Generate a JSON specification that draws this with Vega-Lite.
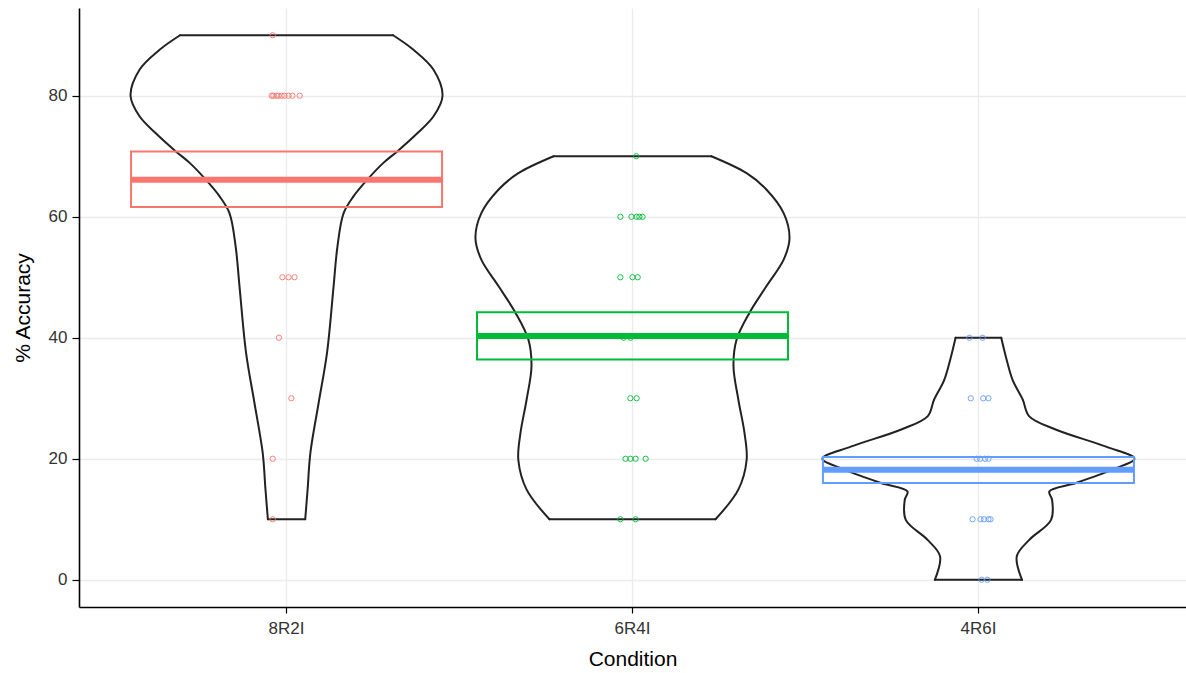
{
  "$schema": "https://vega.github.io/schema/vega-lite/v6.json",
  "width": 1107,
  "height": 599,
  "autosize": {"type": "none"},
  "padding": {"left": 79, "top": 8, "right": 0, "bottom": 66},
  "background": "white",
  "config": {
    "view": {"stroke": null},
    "font": "Liberation Sans",
    "axis": {
      "domainColor": "#000000",
      "domainWidth": 1.6,
      "tickColor": "#000000",
      "tickWidth": 1.2,
      "tickSize": 6,
      "labelColor": "#333333",
      "labelFontSize": 17,
      "titleColor": "#000000",
      "titleFontSize": 21,
      "titleFontWeight": "normal",
      "gridColor": "#EBEBEB",
      "gridWidth": 1.3
    }
  },
  "datasets": {
    "violin": [
      {"cond": "8R2I", "part": "B", "acc": 10, "w": -0.054},
      {"cond": "8R2I", "part": "B", "acc": 10, "w": 0.054},
      {"cond": "8R2I", "part": "T", "acc": 90, "w": -0.308},
      {"cond": "8R2I", "part": "T", "acc": 90, "w": 0.308},
      {"cond": "8R2I", "part": "L", "acc": 10, "w": -0.054},
      {"cond": "8R2I", "part": "L", "acc": 15, "w": -0.061},
      {"cond": "8R2I", "part": "L", "acc": 21, "w": -0.069},
      {"cond": "8R2I", "part": "L", "acc": 29.3, "w": -0.093},
      {"cond": "8R2I", "part": "L", "acc": 37.5, "w": -0.117},
      {"cond": "8R2I", "part": "L", "acc": 48.5, "w": -0.136},
      {"cond": "8R2I", "part": "L", "acc": 55, "w": -0.147},
      {"cond": "8R2I", "part": "L", "acc": 60.6, "w": -0.165},
      {"cond": "8R2I", "part": "L", "acc": 63.4, "w": -0.194},
      {"cond": "8R2I", "part": "L", "acc": 66.1, "w": -0.233},
      {"cond": "8R2I", "part": "L", "acc": 68.9, "w": -0.28},
      {"cond": "8R2I", "part": "L", "acc": 70.8, "w": -0.32},
      {"cond": "8R2I", "part": "L", "acc": 73.8, "w": -0.378},
      {"cond": "8R2I", "part": "L", "acc": 76.6, "w": -0.425},
      {"cond": "8R2I", "part": "L", "acc": 80, "w": -0.451},
      {"cond": "8R2I", "part": "L", "acc": 84.3, "w": -0.425},
      {"cond": "8R2I", "part": "L", "acc": 87.6, "w": -0.367},
      {"cond": "8R2I", "part": "L", "acc": 90, "w": -0.308},
      {"cond": "8R2I", "part": "R", "acc": 10, "w": 0.054},
      {"cond": "8R2I", "part": "R", "acc": 15, "w": 0.061},
      {"cond": "8R2I", "part": "R", "acc": 21, "w": 0.069},
      {"cond": "8R2I", "part": "R", "acc": 29.3, "w": 0.093},
      {"cond": "8R2I", "part": "R", "acc": 37.5, "w": 0.117},
      {"cond": "8R2I", "part": "R", "acc": 48.5, "w": 0.136},
      {"cond": "8R2I", "part": "R", "acc": 55, "w": 0.147},
      {"cond": "8R2I", "part": "R", "acc": 60.6, "w": 0.165},
      {"cond": "8R2I", "part": "R", "acc": 63.4, "w": 0.194},
      {"cond": "8R2I", "part": "R", "acc": 66.1, "w": 0.233},
      {"cond": "8R2I", "part": "R", "acc": 68.9, "w": 0.28},
      {"cond": "8R2I", "part": "R", "acc": 70.8, "w": 0.32},
      {"cond": "8R2I", "part": "R", "acc": 73.8, "w": 0.378},
      {"cond": "8R2I", "part": "R", "acc": 76.6, "w": 0.425},
      {"cond": "8R2I", "part": "R", "acc": 80, "w": 0.451},
      {"cond": "8R2I", "part": "R", "acc": 84.3, "w": 0.425},
      {"cond": "8R2I", "part": "R", "acc": 87.6, "w": 0.367},
      {"cond": "8R2I", "part": "R", "acc": 90, "w": 0.308},

      {"cond": "6R4I", "part": "B", "acc": 10, "w": -0.24},
      {"cond": "6R4I", "part": "B", "acc": 10, "w": 0.24},
      {"cond": "6R4I", "part": "T", "acc": 70, "w": -0.228},
      {"cond": "6R4I", "part": "T", "acc": 70, "w": 0.228},
      {"cond": "6R4I", "part": "L", "acc": 10, "w": -0.24},
      {"cond": "6R4I", "part": "L", "acc": 14.9, "w": -0.306},
      {"cond": "6R4I", "part": "L", "acc": 19.8, "w": -0.33},
      {"cond": "6R4I", "part": "L", "acc": 24.2, "w": -0.324},
      {"cond": "6R4I", "part": "L", "acc": 29.8, "w": -0.306},
      {"cond": "6R4I", "part": "L", "acc": 35.3, "w": -0.292},
      {"cond": "6R4I", "part": "L", "acc": 39.7, "w": -0.301},
      {"cond": "6R4I", "part": "L", "acc": 44.1, "w": -0.338},
      {"cond": "6R4I", "part": "L", "acc": 48.5, "w": -0.387},
      {"cond": "6R4I", "part": "L", "acc": 52.9, "w": -0.437},
      {"cond": "6R4I", "part": "L", "acc": 56.5, "w": -0.454},
      {"cond": "6R4I", "part": "L", "acc": 60.6, "w": -0.437},
      {"cond": "6R4I", "part": "L", "acc": 64.5, "w": -0.387},
      {"cond": "6R4I", "part": "L", "acc": 67.2, "w": -0.33},
      {"cond": "6R4I", "part": "L", "acc": 70, "w": -0.228},
      {"cond": "6R4I", "part": "R", "acc": 10, "w": 0.24},
      {"cond": "6R4I", "part": "R", "acc": 14.9, "w": 0.306},
      {"cond": "6R4I", "part": "R", "acc": 19.8, "w": 0.33},
      {"cond": "6R4I", "part": "R", "acc": 24.2, "w": 0.324},
      {"cond": "6R4I", "part": "R", "acc": 29.8, "w": 0.306},
      {"cond": "6R4I", "part": "R", "acc": 35.3, "w": 0.292},
      {"cond": "6R4I", "part": "R", "acc": 39.7, "w": 0.301},
      {"cond": "6R4I", "part": "R", "acc": 44.1, "w": 0.338},
      {"cond": "6R4I", "part": "R", "acc": 48.5, "w": 0.387},
      {"cond": "6R4I", "part": "R", "acc": 52.9, "w": 0.437},
      {"cond": "6R4I", "part": "R", "acc": 56.5, "w": 0.454},
      {"cond": "6R4I", "part": "R", "acc": 60.6, "w": 0.437},
      {"cond": "6R4I", "part": "R", "acc": 64.5, "w": 0.387},
      {"cond": "6R4I", "part": "R", "acc": 67.2, "w": 0.33},
      {"cond": "6R4I", "part": "R", "acc": 70, "w": 0.228},

      {"cond": "4R6I", "part": "B", "acc": 0, "w": -0.126},
      {"cond": "4R6I", "part": "B", "acc": 0, "w": 0.126},
      {"cond": "4R6I", "part": "T", "acc": 40, "w": -0.066},
      {"cond": "4R6I", "part": "T", "acc": 40, "w": 0.066},
      {"cond": "4R6I", "part": "L", "acc": 0, "w": -0.126},
      {"cond": "4R6I", "part": "L", "acc": 3.9, "w": -0.111},
      {"cond": "4R6I", "part": "L", "acc": 6.6, "w": -0.147},
      {"cond": "4R6I", "part": "L", "acc": 9.9, "w": -0.21},
      {"cond": "4R6I", "part": "L", "acc": 13.2, "w": -0.213},
      {"cond": "4R6I", "part": "L", "acc": 14.6, "w": -0.205},
      {"cond": "4R6I", "part": "L", "acc": 16, "w": -0.282},
      {"cond": "4R6I", "part": "L", "acc": 18.2, "w": -0.387},
      {"cond": "4R6I", "part": "L", "acc": 20, "w": -0.451},
      {"cond": "4R6I", "part": "L", "acc": 22, "w": -0.369},
      {"cond": "4R6I", "part": "L", "acc": 24.8, "w": -0.225},
      {"cond": "4R6I", "part": "L", "acc": 27, "w": -0.147},
      {"cond": "4R6I", "part": "L", "acc": 29.8, "w": -0.128},
      {"cond": "4R6I", "part": "L", "acc": 33, "w": -0.099},
      {"cond": "4R6I", "part": "L", "acc": 36.5, "w": -0.081},
      {"cond": "4R6I", "part": "L", "acc": 40, "w": -0.066},
      {"cond": "4R6I", "part": "R", "acc": 0, "w": 0.126},
      {"cond": "4R6I", "part": "R", "acc": 3.9, "w": 0.111},
      {"cond": "4R6I", "part": "R", "acc": 6.6, "w": 0.147},
      {"cond": "4R6I", "part": "R", "acc": 9.9, "w": 0.21},
      {"cond": "4R6I", "part": "R", "acc": 13.2, "w": 0.213},
      {"cond": "4R6I", "part": "R", "acc": 14.6, "w": 0.205},
      {"cond": "4R6I", "part": "R", "acc": 16, "w": 0.282},
      {"cond": "4R6I", "part": "R", "acc": 18.2, "w": 0.387},
      {"cond": "4R6I", "part": "R", "acc": 20, "w": 0.451},
      {"cond": "4R6I", "part": "R", "acc": 22, "w": 0.369},
      {"cond": "4R6I", "part": "R", "acc": 24.8, "w": 0.225},
      {"cond": "4R6I", "part": "R", "acc": 27, "w": 0.147},
      {"cond": "4R6I", "part": "R", "acc": 29.8, "w": 0.128},
      {"cond": "4R6I", "part": "R", "acc": 33, "w": 0.099},
      {"cond": "4R6I", "part": "R", "acc": 36.5, "w": 0.081},
      {"cond": "4R6I", "part": "R", "acc": 40, "w": 0.066}
    ],
    "points": [
      {"cond": "8R2I", "acc": 90, "jit": -0.04},
      {"cond": "8R2I", "acc": 80, "jit": -0.043},
      {"cond": "8R2I", "acc": 80, "jit": -0.038},
      {"cond": "8R2I", "acc": 80, "jit": -0.029},
      {"cond": "8R2I", "acc": 80, "jit": -0.023},
      {"cond": "8R2I", "acc": 80, "jit": -0.014},
      {"cond": "8R2I", "acc": 80, "jit": -0.006},
      {"cond": "8R2I", "acc": 80, "jit": 0.006},
      {"cond": "8R2I", "acc": 80, "jit": 0.017},
      {"cond": "8R2I", "acc": 80, "jit": 0.038},
      {"cond": "8R2I", "acc": 50, "jit": -0.012},
      {"cond": "8R2I", "acc": 50, "jit": 0.006},
      {"cond": "8R2I", "acc": 50, "jit": 0.023},
      {"cond": "8R2I", "acc": 40, "jit": -0.022},
      {"cond": "8R2I", "acc": 30, "jit": 0.014},
      {"cond": "8R2I", "acc": 20, "jit": -0.04},
      {"cond": "8R2I", "acc": 10, "jit": -0.04},
      {"cond": "6R4I", "acc": 70, "jit": 0.011},
      {"cond": "6R4I", "acc": 60, "jit": -0.035},
      {"cond": "6R4I", "acc": 60, "jit": -0.003},
      {"cond": "6R4I", "acc": 60, "jit": 0.012},
      {"cond": "6R4I", "acc": 60, "jit": 0.02},
      {"cond": "6R4I", "acc": 60, "jit": 0.029},
      {"cond": "6R4I", "acc": 50, "jit": -0.035},
      {"cond": "6R4I", "acc": 50, "jit": 0.0},
      {"cond": "6R4I", "acc": 50, "jit": 0.015},
      {"cond": "6R4I", "acc": 40, "jit": -0.026},
      {"cond": "6R4I", "acc": 40, "jit": -0.006},
      {"cond": "6R4I", "acc": 30, "jit": -0.006},
      {"cond": "6R4I", "acc": 30, "jit": 0.012},
      {"cond": "6R4I", "acc": 20, "jit": -0.02},
      {"cond": "6R4I", "acc": 20, "jit": -0.006},
      {"cond": "6R4I", "acc": 20, "jit": 0.009},
      {"cond": "6R4I", "acc": 20, "jit": 0.038},
      {"cond": "6R4I", "acc": 10, "jit": -0.035},
      {"cond": "6R4I", "acc": 10, "jit": 0.009},
      {"cond": "4R6I", "acc": 40, "jit": -0.026},
      {"cond": "4R6I", "acc": 40, "jit": 0.012},
      {"cond": "4R6I", "acc": 30, "jit": -0.022},
      {"cond": "4R6I", "acc": 30, "jit": 0.014},
      {"cond": "4R6I", "acc": 30, "jit": 0.029},
      {"cond": "4R6I", "acc": 20, "jit": -0.005},
      {"cond": "4R6I", "acc": 20, "jit": 0.005},
      {"cond": "4R6I", "acc": 20, "jit": 0.019},
      {"cond": "4R6I", "acc": 20, "jit": 0.029},
      {"cond": "4R6I", "acc": 10, "jit": -0.017},
      {"cond": "4R6I", "acc": 10, "jit": 0.006},
      {"cond": "4R6I", "acc": 10, "jit": 0.016},
      {"cond": "4R6I", "acc": 10, "jit": 0.029},
      {"cond": "4R6I", "acc": 10, "jit": 0.035},
      {"cond": "4R6I", "acc": 0, "jit": 0.009},
      {"cond": "4R6I", "acc": 0, "jit": 0.026}
    ],
    "summary": [
      {"cond": "8R2I", "mean": 66.1, "lo": 61.6, "hi": 70.8},
      {"cond": "6R4I", "mean": 40.3, "lo": 36.4, "hi": 44.2},
      {"cond": "4R6I", "mean": 18.2, "lo": 16.0, "hi": 20.3}
    ]
  },
  "resolve": {"scale": {"xOffset": "independent"}},
  "encoding": {
    "x": {
      "field": "cond",
      "type": "nominal",
      "sort": ["8R2I", "6R4I", "4R6I"],
      "scale": {"type": "band", "paddingInner": 0, "paddingOuter": 0.1},
      "axis": {
        "title": "Condition",
        "labelAngle": 0,
        "bandPosition": 0.5,
        "grid": true,
        "labelPadding": 7,
        "titlePadding": 12,
        "zindex": 0
      }
    }
  },
  "layer": [
    {
      "data": {"name": "violin"},
      "mark": {"type": "line", "color": "#222222", "strokeWidth": 2, "interpolate": "catmull-rom", "strokeJoin": "round", "strokeCap": "round"},
      "encoding": {
        "xOffset": {"field": "w", "type": "quantitative", "scale": {"domain": [-0.5, 0.5], "range": [0, 345.9]}},
        "y": {
          "field": "acc",
          "type": "quantitative",
          "scale": {"domain": [-4.5, 94.5], "nice": false, "zero": false},
          "axis": {
            "title": "% Accuracy",
            "values": [0, 20, 40, 60, 80],
            "grid": true,
            "tickSize": 7,
            "labelPadding": 5,
            "titlePadding": 15,
            "zindex": 0
          }
        },
        "detail": [{"field": "cond"}, {"field": "part"}],
        "order": {"field": "acc", "type": "quantitative"}
      }
    },
    {
      "data": {"name": "summary"},
      "mark": {"type": "bar", "filled": false, "strokeWidth": 2, "width": 311},
      "encoding": {
        "y": {"field": "lo", "type": "quantitative"},
        "y2": {"field": "hi"},
        "color": {
          "field": "cond",
          "type": "nominal",
          "scale": {"domain": ["8R2I", "6R4I", "4R6I"], "range": ["#F8766D", "#00BA38", "#619CFF"]},
          "legend": null
        }
      }
    },
    {
      "data": {"name": "summary"},
      "mark": {"type": "tick", "orient": "horizontal", "thickness": 6, "size": 311, "opacity": 1},
      "encoding": {
        "y": {"field": "mean", "type": "quantitative"},
        "color": {"field": "cond", "type": "nominal", "legend": null}
      }
    },
    {
      "data": {"name": "points"},
      "mark": {"type": "point", "shape": "circle", "filled": false, "size": 28, "strokeWidth": 1, "opacity": 0.9},
      "encoding": {
        "xOffset": {"field": "jit", "type": "quantitative", "scale": {"domain": [-0.5, 0.5], "range": [0, 345.9]}},
        "y": {"field": "acc", "type": "quantitative"},
        "color": {"field": "cond", "type": "nominal", "legend": null}
      }
    }
  ]
}
